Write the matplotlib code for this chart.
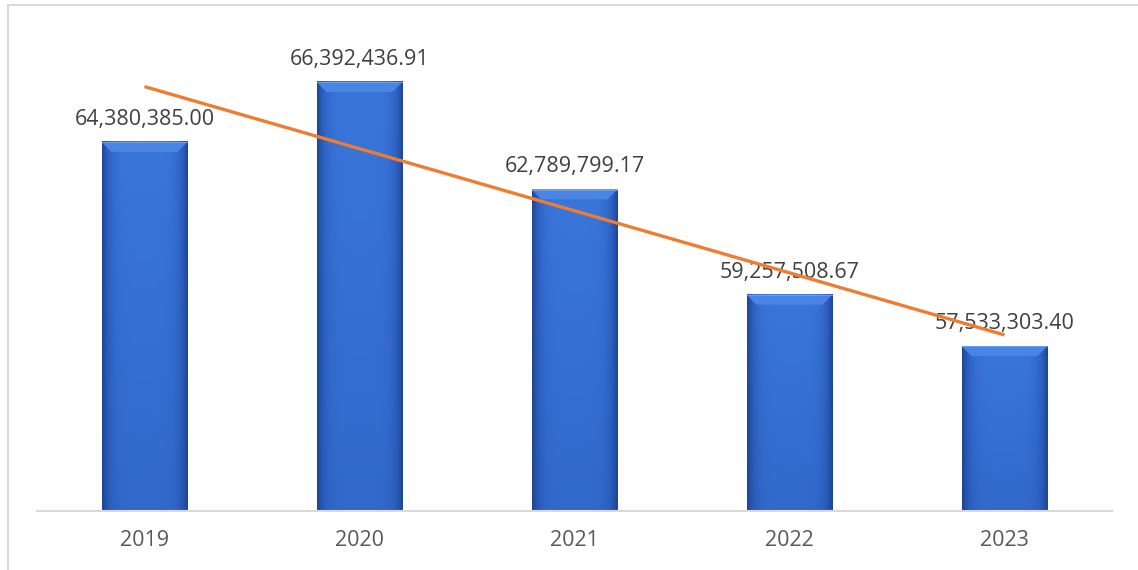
import numpy as np
import matplotlib
matplotlib.use("Agg")
import matplotlib.pyplot as plt
from matplotlib.patches import Rectangle, Polygon
from matplotlib.colors import LinearSegmentedColormap

years = ["2019", "2020", "2021", "2022", "2023"]
values = [64380385.00, 66392436.91, 62789799.17, 59257508.67, 57533303.40]
labels = ["64,380,385.00", "66,392,436.91", "62,789,799.17", "59,257,508.67", "57,533,303.40"]

W, H = 1138, 570
fig = plt.figure(figsize=(W / 100, H / 100), dpi=100)
ax = fig.add_axes([37 / W, (H - 511) / H, 1075 / W, 477 / H])

ymin, ymax = 52.0e6, 68.0e6
ax.set_xlim(-0.5, 4.5)
ax.set_ylim(ymin, ymax)

x = np.arange(len(years))
bw = 0.4
px = (ymax - ymin) / 477

# horizontal shading: dark edges, lighter middle
cross = np.linspace(-1, 1, 200)
shade = 1 - np.abs(cross) ** 5
cmap = LinearSegmentedColormap.from_list("bar", ["#1d4590", "#2c5fbf", "#3a76da"])

bars = ax.bar(x, values, width=bw, bottom=ymin, color="none", edgecolor="none")
for i, b in enumerate(bars):
    xi, v = x[i], values[i]
    vert = np.linspace(0.72, 1.0, 120)[:, None]
    img = shade[None, :] * vert
    im = ax.imshow(img, cmap=cmap, vmin=0, vmax=1, aspect="auto",
                   extent=(xi - bw / 2, xi + bw / 2, ymin, v), origin="lower",
                   interpolation="bilinear", zorder=2)
    im.set_clip_path(b)
    # bevel at the top of the bar
    dy = 10 * px
    dx = bw * 10 / 86
    ax.add_patch(Polygon([(xi - bw / 2, v), (xi + bw / 2, v), (xi + bw / 2 - dx, v - dy),
                          (xi - bw / 2 + dx, v - dy)], closed=True,
                         facecolor="#4a84e4", edgecolor="none", zorder=3))
    ax.add_patch(Rectangle((xi - bw / 2, v - 1.2 * px), bw, 1.2 * px,
                           facecolor="#6a9cec", edgecolor="none", zorder=3))
    ax.text(xi, v + 17 * px, labels[i], ha="center", va="baseline", fontsize=15.5,
            color="#404040", family="Open Sans", zorder=4)

# linear trend line
k, c = np.polyfit(x, values, 1)
ax.plot(x, k * x + c, color="#ed7d31", linewidth=2.4, zorder=5, solid_capstyle="butt")

for s in ["top", "right", "left"]:
    ax.spines[s].set_visible(False)
ax.spines["bottom"].set_color("#d9d9d9")
ax.spines["bottom"].set_linewidth(1.5)
ax.set_yticks([])
ax.set_xticks(x)
ax.set_xticklabels(years, fontsize=15.5, color="#595959", family="Open Sans")
ax.tick_params(axis="x", length=0, pad=14)

# chart frame (runs past the right and bottom edges)
fig.patches.append(Rectangle((8 / W, -0.05), 1.0, (H - 5) / H + 0.05, transform=fig.transFigure,
                             fill=False, edgecolor="#d9d9d9", linewidth=1.5))

fig.savefig("out.png", dpi=100)
